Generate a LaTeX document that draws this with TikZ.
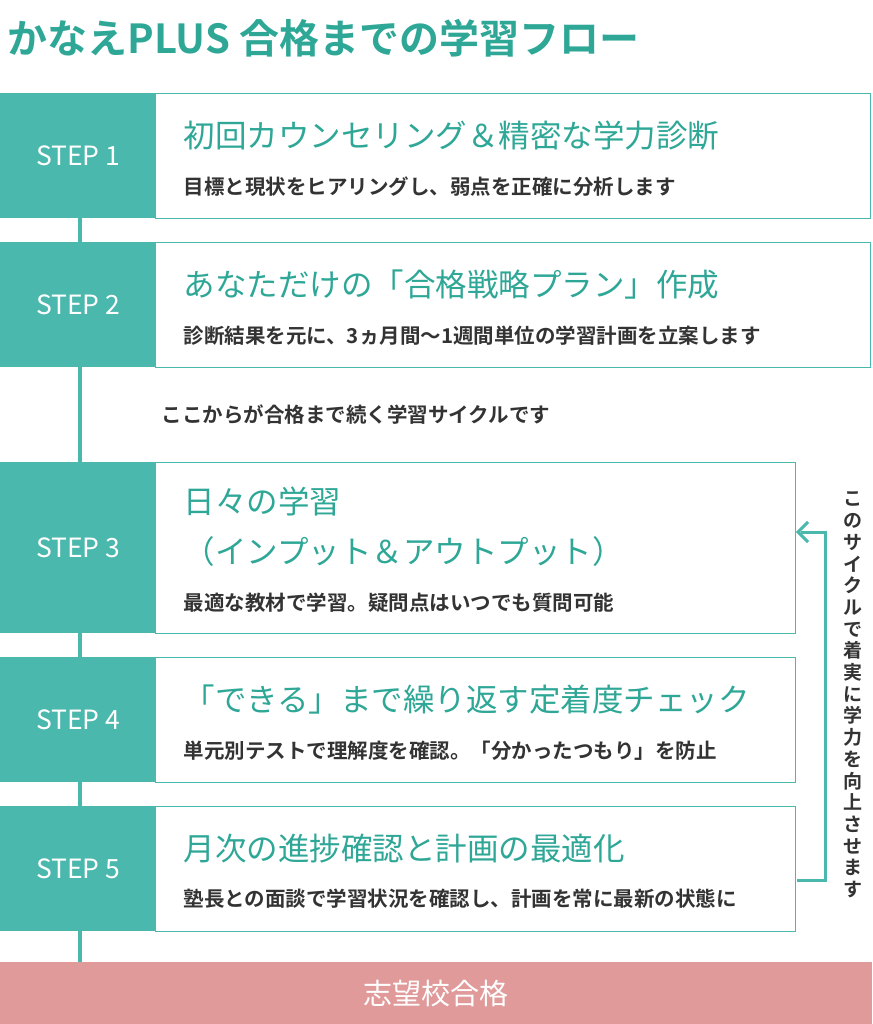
\documentclass[tikz,border=0pt]{standalone}
\usepackage{fontspec}
\newfontfamily\jp{Noto Sans CJK JP}
\newfontfamily\jpb{Noto Sans CJK JP Bold}
\definecolor{teal1}{HTML}{4BB8AE}
\definecolor{tealt}{HTML}{2EA797}
\definecolor{pinkb}{HTML}{E09A9A}
\definecolor{darkt}{HTML}{333333}
\begin{document}
\begin{tikzpicture}[x=1pt,y=-1pt,
 lab/.style={fill=teal1,text=white,font=\jp\fontsize{26.5}{30}\selectfont,inner sep=0,anchor=north west,minimum width=156pt,text height=20pt},
 card/.style={draw=teal1,line width=1pt,fill=white,anchor=north west,inner sep=0},
 head/.style={text=tealt,font=\jp\fontsize{31.5}{50}\selectfont,anchor=west,align=left},
 desc/.style={text=darkt,font=\jpb\fontsize{20.5}{24}\selectfont,anchor=west}]
\useasboundingbox (0,0) rectangle (872,1024);
\node[text=tealt,font=\jpb\fontsize{40}{44}\selectfont,anchor=west] (title) at (4,38) {かなえPLUS 合格までの学習フロー};
\draw[teal1,line width=4pt] (80,100) -- (80,965);
% steps
\foreach \n/\y/\h/\w in {1/93/125/715,2/242/125/715,3/462/171/640,4/657/125/640,5/806/125/640}{
 \node[card,minimum width=\w pt,minimum height=\h pt] (c\n) at (155,\y) {};
 \node[lab,minimum height=\h pt] (s\n) at (0,\y) {STEP \n};
}
\node[head] (h1) at (180,136) {初回カウンセリング＆精密な学力診断};
\node[desc] (d1) at (180,187) {目標と現状をヒアリングし、弱点を正確に分析します};
\node[head] (h2) at (180,285) {あなただけの「合格戦略プラン」作成};
\node[desc] (d2) at (180,336) {診断結果を元に、3ヵ月間〜1週間単位の学習計画を立案します};
\node[text=darkt,font=\jpb\fontsize{20.5}{24}\selectfont] (mid) at (356,415) {ここからが合格まで続く学習サイクルです};
\node[head] (h3) at (180,527) {日々の学習\\（インプット＆アウトプット）};
\node[desc] (d3) at (180,603) {最適な教材で学習。疑問点はいつでも質問可能};
\node[head] (h4) at (180,700) {「できる」まで繰り返す定着度チェック};
\node[desc] (d4) at (180,751) {単元別テストで理解度を確認。「分かったつもり」を防止};
\node[head] (h5) at (180,849) {月次の進捗確認と計画の最適化};
\node[desc] (d5) at (180,899) {塾長との面談で学習状況を確認し、計画を常に最新の状態に};
\node[fill=pinkb,text=white,font=\jp\fontsize{29}{32}\selectfont,anchor=north west,minimum width=872pt,minimum height=62pt,inner sep=0] (goal) at (0,962) {志望校合格};
% cycle arrow
\coordinate (a1) at (797,880);
\coordinate (a2) at (797,532);
\draw[teal1,line width=3pt,line join=miter] (a1) -- (825,880) -- (825,532) -- (801,532);
\draw[teal1,line width=3pt] (808,522) -- (798,532) -- (808,542);
\node[text=darkt,font=\jpb\fontsize{19}{21.7}\selectfont,align=center,inner sep=0] (vt) at (853,695) {こ\\の\\サ\\イ\\ク\\ル\\で\\着\\実\\に\\学\\力\\を\\向\\上\\さ\\せ\\ま\\す};
\end{tikzpicture}
\end{document}
